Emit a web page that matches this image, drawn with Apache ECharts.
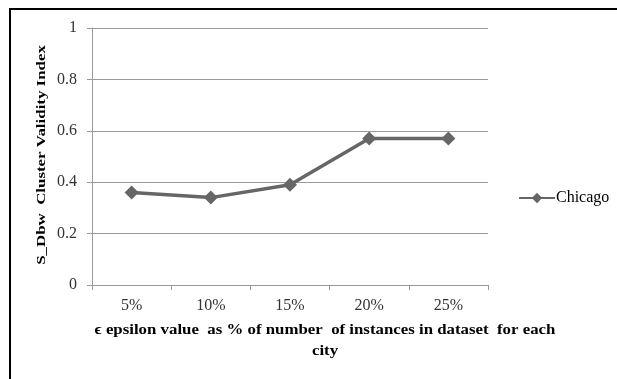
<!DOCTYPE html>
<html><head><meta charset="utf-8">
<script src="https://cdn.jsdelivr.net/npm/echarts@6/dist/echarts.min.js"></script>
<style>html,body{margin:0;padding:0;background:#fff}#c{width:617px;height:379px}</style>
</head><body><div id="c"></div>
<script>
const categories = ['5%', '10%', '15%', '20%', '25%'];
const chicago = [0.36, 0.34, 0.39, 0.57, 0.57];
const yTicks = [0, 0.2, 0.4, 0.6, 0.8, 1];
const seriesName = 'Chicago';
const yTitle = 'S_Dbw  Cluster Validity Index';
const xTitle = 'ϵ epsilon value  as % of number  of instances in dataset  for each\ncity';

const font = 'Liberation Serif';
const chart = echarts.init(document.getElementById('c'));
chart.setOption({
  animation: false,
  backgroundColor: '#fff',
  grid: { left: 92, top: 28, width: 396, height: 257, containLabel: false },
  legend: {
    data: [seriesName], orient: 'vertical', left: 513, top: 185,
    itemWidth: 36, itemHeight: 13, itemGap: 4,
    textStyle: { fontFamily: font, fontSize: 16, color: '#000', padding: [0,0,0,-4] }
  },
  xAxis: {
    type: 'category', data: categories, boundaryGap: true,
    axisLine: { lineStyle: { color: '#999', width: 1 } },
    axisTick: { show: true, length: 5, lineStyle: { color: '#999' } },
    axisLabel: { fontFamily: font, fontSize: 16, color: '#333', margin: 13 }
  },
  yAxis: {
    type: 'value', min: 0, max: 1, interval: 0.2,
    axisLine: { show: true, lineStyle: { color: '#999', width: 1 } },
    axisTick: { show: true, length: 5, lineStyle: { color: '#999' } },
    splitLine: { lineStyle: { color: '#999', width: 1 } },
    axisLabel: { fontFamily: font, fontSize: 16, color: '#333', margin: 15,
      formatter: v => { const t = yTicks.find(x => Math.abs(x - v) < 1e-9); return t === undefined ? '' : String(t); } }
  },
  graphic: [
    { type: 'rect', shape: { x: 9, y: 8, width: 2, height: 371 }, style: { fill: '#000' } },
    { type: 'rect', shape: { x: 9, y: 8, width: 608, height: 2 }, style: { fill: '#000' } },
    { type: 'text', x: 42, y: 155, rotation: Math.PI / 2, scaleX: 1.25,
      style: { text: yTitle, fontFamily: font, fontSize: 13.5, fontWeight: 'bold', fill: '#000', align: 'center', verticalAlign: 'middle' } },
    { type: 'text', x: 325, y: 320, scaleX: 1.16,
      style: { text: xTitle, fontFamily: font, fontSize: 14.5, fontWeight: 'bold', fill: '#000', align: 'center', verticalAlign: 'top', lineHeight: 21 } }
  ],
  series: [{
    name: seriesName, type: 'line', data: chicago,
    symbol: 'diamond', symbolSize: 14,
    lineStyle: { color: '#666', width: 3.5 },
    itemStyle: { color: '#666' }
  }]
});
</script></body></html>
